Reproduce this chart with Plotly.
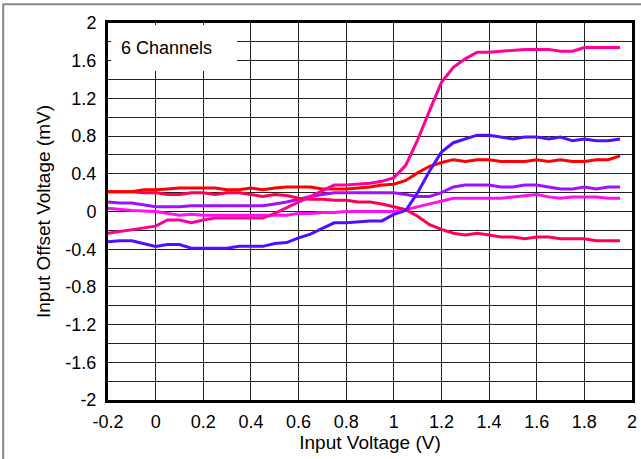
import plotly.graph_objects as go

# Input voltage sweep (V)
vin = [-0.2, -0.15, -0.1, -0.05, 0.0, 0.05, 0.1, 0.15, 0.2, 0.25, 0.3, 0.35,
       0.4, 0.45, 0.5, 0.55, 0.6, 0.65, 0.7, 0.75, 0.8, 0.85, 0.9, 0.95,
       1.0, 1.05, 1.1, 1.15, 1.2, 1.25, 1.3, 1.35, 1.4, 1.45, 1.5, 1.55,
       1.6, 1.65, 1.7, 1.75, 1.8, 1.85, 1.9, 1.95]

# Input offset voltage per channel (mV)
ch_red = [0.21, 0.21, 0.21, 0.23, 0.23, 0.24, 0.25, 0.25, 0.25, 0.25, 0.23, 0.23,
          0.25, 0.23, 0.25, 0.26, 0.26, 0.26, 0.24, 0.24, 0.24, 0.25, 0.26, 0.28,
          0.29, 0.33, 0.41, 0.48, 0.52, 0.55, 0.53, 0.55, 0.55, 0.53, 0.53, 0.53,
          0.55, 0.53, 0.55, 0.53, 0.53, 0.55, 0.55, 0.59]
ch_crimson = [0.21, 0.21, 0.21, 0.20, 0.20, 0.18, 0.18, 0.20, 0.20, 0.18, 0.20, 0.20,
              0.18, 0.16, 0.18, 0.17, 0.14, 0.13, 0.13, 0.12, 0.12, 0.10, 0.10, 0.08,
              0.05, 0.02, -0.05, -0.14, -0.19, -0.23, -0.25, -0.23, -0.25, -0.27, -0.27, -0.29,
              -0.27, -0.27, -0.29, -0.29, -0.29, -0.31, -0.31, -0.31]
ch_purple = [0.10, 0.09, 0.09, 0.07, 0.05, 0.05, 0.05, 0.06, 0.06, 0.06, 0.06, 0.06,
             0.06, 0.06, 0.08, 0.10, 0.13, 0.16, 0.18, 0.20, 0.20, 0.20, 0.20, 0.20,
             0.20, 0.18, 0.16, 0.16, 0.20, 0.26, 0.28, 0.28, 0.28, 0.26, 0.26, 0.28,
             0.28, 0.26, 0.24, 0.24, 0.26, 0.24, 0.26, 0.26]
ch_magenta = [0.035, 0.02, 0.01, 0.005, 0.0, -0.02, -0.04, -0.03, -0.04, -0.04, -0.04, -0.04,
              -0.04, -0.04, -0.04, -0.04, -0.02, -0.02, -0.01, -0.01, 0.0, 0.0, 0.0, 0.0,
              0.0, 0.02, 0.05, 0.08, 0.11, 0.14, 0.14, 0.14, 0.14, 0.14, 0.155, 0.165,
              0.18, 0.155, 0.14, 0.155, 0.155, 0.155, 0.14, 0.14]
ch_pink = [-0.23, -0.21, -0.19, -0.17, -0.155, -0.09, -0.09, -0.12, -0.09, -0.07, -0.07, -0.07,
           -0.07, -0.07, -0.02, 0.04, 0.10, 0.16, 0.22, 0.28, 0.28, 0.29, 0.30, 0.32,
           0.36, 0.49, 0.76, 1.07, 1.37, 1.53, 1.62, 1.69, 1.69, 1.70, 1.71, 1.72,
           1.72, 1.72, 1.70, 1.70, 1.74, 1.74, 1.74, 1.74]
ch_blue = [-0.32, -0.31, -0.31, -0.34, -0.37, -0.35, -0.35, -0.39, -0.39, -0.39, -0.39, -0.37,
           -0.37, -0.37, -0.34, -0.33, -0.28, -0.24, -0.18, -0.12, -0.12, -0.11, -0.10, -0.10,
           -0.03, 0.01, 0.20, 0.43, 0.63, 0.73, 0.77, 0.81, 0.81, 0.79, 0.77, 0.79,
           0.79, 0.77, 0.79, 0.75, 0.77, 0.75, 0.75, 0.77]

channels = [
    (ch_magenta, "#FF10F0"),
    (ch_purple, "#A010FF"),
    (ch_crimson, "#FF0050"),
    (ch_red, "#FF0000"),
    (ch_blue, "#5010FF"),
    (ch_pink, "#FF0099"),
]

x_ticks = [-0.2, 0, 0.2, 0.4, 0.6, 0.8, 1, 1.2, 1.4, 1.6, 1.8, 2]
x_labels = ["-0.2", "0", "0.2", "0.4", "0.6", "0.8", "1", "1.2", "1.4", "1.6", "1.8", "2"]
y_ticks = [-2, -1.8, -1.6, -1.4, -1.2, -1, -0.8, -0.6, -0.4, -0.2, 0,
           0.2, 0.4, 0.6, 0.8, 1, 1.2, 1.4, 1.6, 1.8, 2]
y_labels = ["-2", "", "-1.6", "", "-1.2", "", "-0.8", "", "-0.4", "", "0",
            "", "0.4", "", "0.8", "", "1.2", "", "1.6", "", "2"]

fig = go.Figure()
for vals, color in channels:
    fig.add_trace(go.Scatter(x=vin, y=vals, mode="lines",
                             line=dict(color=color, width=3), showlegend=False))

font_family = "Liberation Sans, Arial, sans-serif"

fig.update_layout(
    width=641, height=459,
    margin=dict(l=108, r=9, t=23, b=59, autoexpand=False),
    paper_bgcolor="white", plot_bgcolor="white",
    font=dict(family=font_family, color="black", size=18),
    xaxis=dict(
        range=[-0.2, 2], tickvals=x_ticks, ticktext=x_labels, automargin=False,
        showgrid=True, gridcolor="#222222", gridwidth=1, zeroline=False,
        showline=True, linecolor="black", linewidth=3, mirror=True,
        ticks="outside", ticklen=3, tickcolor="white",
        tickfont=dict(size=18),
        title=dict(text="Input Voltage (V)", font=dict(size=19), standoff=1),
    ),
    yaxis=dict(
        range=[-2, 2], tickvals=y_ticks, ticktext=y_labels, automargin=False,
        showgrid=True, gridcolor="#222222", gridwidth=1, zeroline=False,
        showline=True, linecolor="black", linewidth=3, mirror=True,
        ticks="outside", ticklen=5, tickcolor="white",
        tickfont=dict(size=18),
        title=dict(text="Input Offset Voltage (mV)", font=dict(size=19), standoff=10),
    ),
    shapes=[
        # white panel behind the channel-count label
        dict(type="rect", xref="x", yref="y", x0=-0.187, x1=0.342, y0=1.49, y1=1.98,
             fillcolor="white", line=dict(width=0), layer="above"),
        # thin outer frame around the figure
        dict(type="rect", xref="paper", yref="paper", x0=-0.2, x1=1.06, y0=-0.2, y1=1.05,
             fillcolor="rgba(0,0,0,0)", line=dict(color="#888888", width=2), layer="above"),
    ],
    annotations=[
        dict(text="6 Channels", xref="x", yref="y", x=-0.155, y=1.735,
             xanchor="left", yanchor="middle", showarrow=False,
             font=dict(size=18, color="black")),
    ],
)

fig.write_html("out.html")
